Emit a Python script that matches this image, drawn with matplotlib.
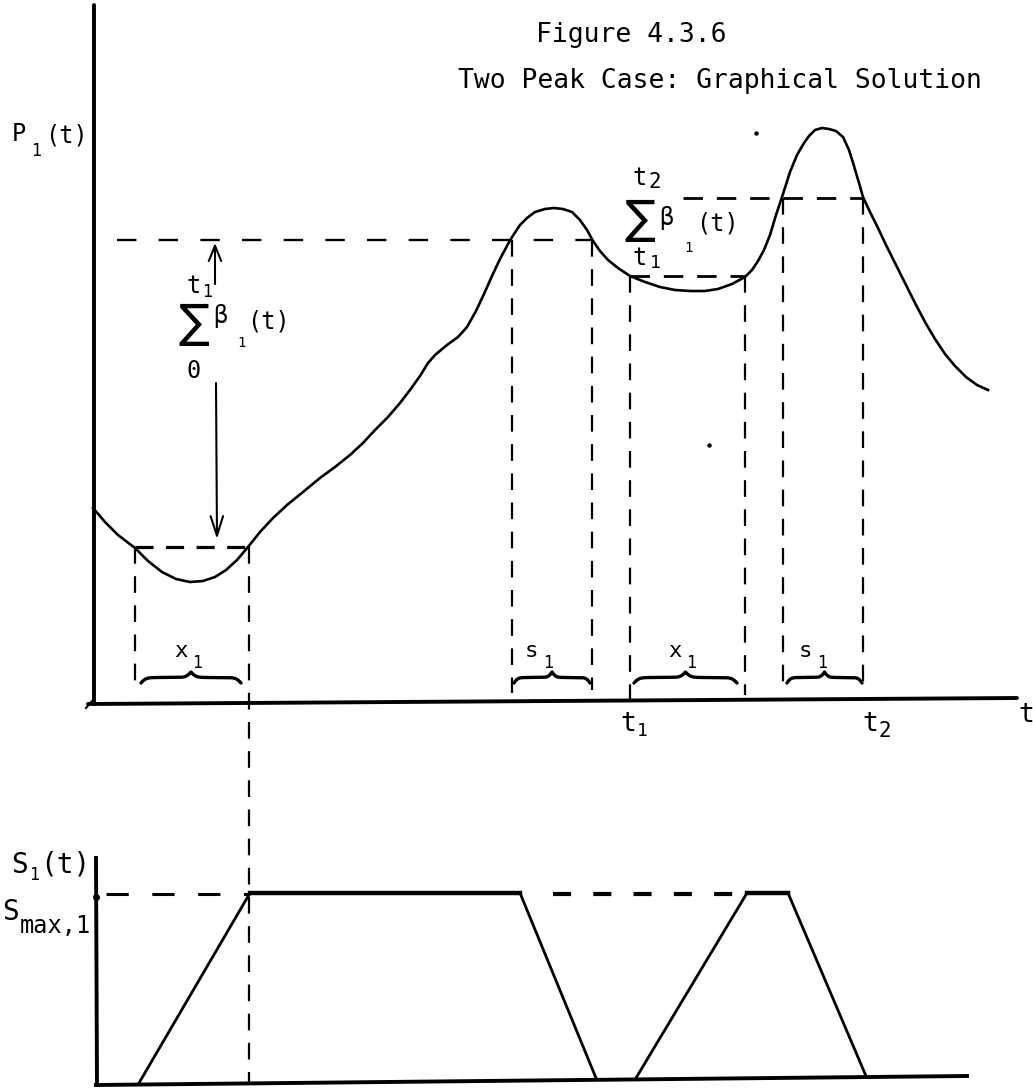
import numpy as np
import matplotlib
matplotlib.use("Agg")
import matplotlib.pyplot as plt

plt.rcParams['lines.scale_dashes'] = False
plt.rcParams['font.family'] = ['DejaVu Sans Mono', 'DejaVu Sans']

# ---------------- data (drawing units: t to the right, value downward) -------------
# P1(t) curve
curve_t = [93, 105, 118, 135, 148, 162, 176, 190, 203, 215, 226, 237, 248, 260, 273, 287,
           303, 320, 335, 350, 363, 375, 388, 400, 410, 420, 428, 435, 447, 458, 467, 476,
           484, 492, 500, 508, 514, 520, 527, 535, 545, 554, 563, 572, 580, 587, 593, 600,
           608, 618, 630, 645, 660, 675, 690, 705, 718, 732, 745, 752, 758, 764, 770, 776,
           783, 790, 797, 804, 809, 815, 822, 829, 836, 843, 849, 854, 859, 863, 870, 878,
           886, 895, 905, 915, 925, 935, 945, 955, 966, 977, 988]
curve_p = [508, 522, 535, 548, 561, 572, 579, 582, 581, 577, 570, 560, 547, 532, 518, 505,
           492, 478, 467, 455, 443, 430, 417, 403, 390, 376, 363, 355, 345, 337, 327, 311,
           294, 276, 259, 244, 234, 225, 218, 212, 209, 208, 209, 212, 220, 230, 241, 251,
           260, 268, 276, 282, 287, 290, 291, 291, 289, 284, 277, 270, 261, 250, 235, 215,
           194, 172, 155, 143, 136, 130, 128, 129, 131, 137, 150, 166, 183, 197, 212, 228,
           245, 263, 283, 303, 322, 339, 354, 366, 377, 385, 390]

# horizontal guide levels: (level, t_start, t_end)
level_sum0 = (240, 117, 592)
level_min = (547, 135, 248)
level_t1 = (276, 630, 745)
level_t2 = (198, 683, 862)

# vertical guide lines: (t, top, bottom)
guides = [(135, 547, 690), (249, 547, 1083), (512, 240, 693), (592, 240, 690),
          (630, 276, 702), (745, 276, 695), (783, 198, 693), (863, 198, 690)]

# braces with labels: (t_start, t_end, label)
braces = [(141, 241, 'x'), (514, 590, 's'), (634, 737, 'x'), (787, 862, 's')]
brace_label_x = [174, 525, 668, 799]

# S1(t) storage profile (lower panel)
s_t = [139, 250, 520, 596, 636, 747, 788, 866]
s_v = [1083, 893, 893, 1078, 1078, 893, 893, 1076]
s_max_level = 894

# stray specks of the original scan
speck_t = [756, 709]
speck_p = [133, 445]

# ---------------- figure -----------------------------------------------------------
fig = plt.figure(figsize=(10.33, 10.88), dpi=100)
ax = fig.add_axes([0, 0, 1, 1])
ax.set_xlim(0, 1033)
ax.set_ylim(1088, 0)
ax.axis('off')

K = 'black'
# axes of the top panel
ax.plot([94, 94], [5, 704], color=K, lw=2.8, solid_capstyle='round')
ax.plot([88, 1017], [704, 698], color=K, lw=2.8, solid_capstyle='round')
ax.plot([86, 92], [708, 701], color=K, lw=1.5)
# axes of the lower panel
ax.plot([96, 97], [858, 1085], color=K, lw=2.8)
ax.plot([96, 967], [1085, 1076], color=K, lw=2.8)

# P1(t) curve
ax.plot(curve_t, curve_p, color=K, lw=1.9, solid_joinstyle='round')
ax.plot(speck_t, speck_p, ls='none', marker='o', ms=2.2, color=K)

# horizontal dashed guides
for lvl, a, b in [level_sum0]:
    ax.plot([a, b], [lvl, lvl], color=K, lw=1.7, ls=(0, (14, 16)))
for lvl, a, b in [level_min]:
    ax.plot([a, b], [lvl, lvl], color=K, lw=2.3, ls=(0, (13, 9)))
for lvl, a, b in [level_t1, level_t2]:
    ax.plot([a, b], [lvl, lvl], color=K, lw=2.0, ls=(0, (14, 10)))

# vertical dashed guides
for x, top, bot in guides:
    ax.plot([x, x], [top, bot], color=K, lw=1.6, ls=(0, (12, 9)))

# braces
def brace(x0, x1, y, h):
    n = 201
    half = np.linspace(0, 0.5, n // 2 + 1)
    beta = 40.0
    yh = 1 / (1 + np.exp(-beta * (half - half[0]))) + 1 / (1 + np.exp(-beta * (half - half[-1])))
    yy = np.concatenate((yh, yh[-2::-1]))
    xx = np.linspace(x0, x1, len(yy))
    yy = y - (yy - 0.5) * h
    return xx, yy

for (a, b, lab), lx in zip(braces, brace_label_x):
    bx, by = brace(a, b, 683, 11)
    ax.plot(bx, by, color=K, lw=2.4, solid_capstyle='round')
    ax.text(lx, 657, lab, fontsize=16, ha='left', va='baseline')
    ax.text(lx + 18, 668, '1', fontsize=12, ha='left', va='baseline')

# lower panel profile and dashed Smax
ax.plot(s_t[:4], s_v[:4], color=K, lw=2.0)
ax.plot(s_t[4:], s_v[4:], color=K, lw=2.0)
ax.plot(s_t[1:3], s_v[1:3], color=K, lw=3.2)
ax.plot(s_t[5:7], s_v[5:7], color=K, lw=3.2)
ax.plot([106, 250], [s_max_level, s_max_level], color=K, lw=2.2, ls=(0, (16, 17)))
ax.plot([553, 747], [s_max_level, s_max_level], color=K, lw=3.0, ls=(0, (13, 16)))
ax.plot([96], [s_max_level + 3], marker='o', ms=4, color=K)

# arrows of the first sum
ax.annotate('', xy=(215, 243), xytext=(215, 284),
            arrowprops=dict(arrowstyle='->,head_length=1.1,head_width=0.45', lw=1.5, color=K,
                            shrinkA=0, shrinkB=0))
ax.annotate('', xy=(217, 539), xytext=(216, 383),
            arrowprops=dict(arrowstyle='->,head_length=1.4,head_width=0.45', lw=1.5, color=K,
                            shrinkA=0, shrinkB=0))

# ---------------- text ---------------------------------------------------------------
ax.text(536, 42, 'Figure 4.3.6', fontsize=19, ha='left', va='baseline')
ax.text(458, 88, 'Two Peak Case: Graphical Solution', fontsize=19, ha='left', va='baseline')

# P1(t)
ax.text(12, 141, 'P', fontsize=17, ha='left', va='baseline')
ax.text(31, 156, '1', fontsize=12, ha='left', va='baseline')
ax.text(45, 142, '(t)', fontsize=17, ha='left', va='baseline')

# first sum label
ax.text(187, 293, 't', fontsize=17, ha='left', va='baseline')
ax.text(202, 297, '1', fontsize=12, ha='left', va='baseline')
ax.text(194, 324, '∑', fontsize=33, ha='center', va='center', family='DejaVu Sans')
ax.text(213, 323, 'β', fontsize=17, ha='left', va='baseline')
ax.text(237, 347, '1', fontsize=10, ha='left', va='baseline')
ax.text(247, 328, '(t)', fontsize=17, ha='left', va='baseline')
ax.text(187, 378, '0', fontsize=17, ha='left', va='baseline')

# second sum label
ax.text(633, 185, 't', fontsize=17, ha='left', va='baseline')
ax.text(648, 188, '2', fontsize=15, ha='left', va='baseline')
ax.text(640, 220, '∑', fontsize=33, ha='center', va='center', family='DejaVu Sans')
ax.text(659, 225, 'β', fontsize=17, ha='left', va='baseline')
ax.text(684, 252, '1', fontsize=10, ha='left', va='baseline')
ax.text(696, 230, '(t)', fontsize=17, ha='left', va='baseline')
ax.text(633, 265, 't', fontsize=17, ha='left', va='baseline')
ax.text(650, 268, '1', fontsize=13, ha='left', va='baseline')

# axis labels
ax.text(620, 731, 't', fontsize=19, ha='left', va='baseline')
ax.text(637, 736, '1', fontsize=13, ha='left', va='baseline')
ax.text(862, 731, 't', fontsize=19, ha='left', va='baseline')
ax.text(878, 737, '2', fontsize=15, ha='left', va='baseline')
ax.text(1018, 722, 't', fontsize=19, ha='left', va='baseline')

# S1(t) and Smax,1
ax.text(11, 873, 'S', fontsize=20, ha='left', va='baseline')
ax.text(29, 880, '1', fontsize=12, ha='left', va='baseline')
ax.text(40, 873, '(t)', fontsize=20, ha='left', va='baseline')
ax.text(2, 920, 'S', fontsize=20, ha='left', va='baseline')
ax.text(20, 933, 'max,1', fontsize=17, ha='left', va='baseline')

fig.savefig('out.png', dpi=100, facecolor='white')
